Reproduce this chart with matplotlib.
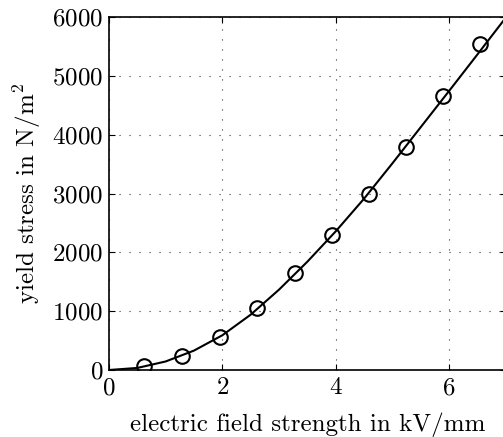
import matplotlib
matplotlib.use("Agg")
import matplotlib.pyplot as plt

plt.rcParams.update({
    "font.family": "serif",
    "font.serif": ["cmr10"],
    "mathtext.fontset": "cm",
    "axes.formatter.use_mathtext": True,
    "font.size": 18,
})

# measured yield stress (N/m^2) vs. electric field strength (kV/mm)
field_meas = [0.62, 1.29, 1.96, 2.62, 3.28, 3.94, 4.59, 5.24, 5.90, 6.55]
stress_meas = [73, 238, 566, 1049, 1644, 2296, 2988, 3787, 4654, 5544]

# model curve
field_model = [0, 0.5, 1, 1.5, 2, 2.5, 3, 3.5, 4, 4.5, 5, 5.5, 6, 6.5, 7]
stress_model = [0, 35, 145, 330, 590, 940, 1365, 1840, 2355, 2910, 3510,
                4125, 4740, 5360, 5985]

x_ticks = [0, 2, 4, 6]
y_ticks = [0, 1000, 2000, 3000, 4000, 5000, 6000]

fig = plt.figure(figsize=(5.03, 4.37), dpi=100)
ax = fig.add_axes([109 / 503, 67 / 437, 396.6 / 503, 353 / 437])

ax.plot(field_model, stress_model, color="black", lw=1.5)
ax.plot(field_meas, stress_meas, linestyle="none", marker="o", ms=10.5,
        mfc="none", mec="black", mew=1.5)

ax.set_xlim(0, 7)
ax.set_ylim(0, 6000)
ax.set_xticks(x_ticks)
ax.set_yticks(y_ticks)
ax.grid(True, linestyle=(0, (1, 8)), color="#333333", lw=0.8)
ax.tick_params(direction="in", top=True, right=True, length=4)
ax.tick_params(axis="x", pad=5)
ax.tick_params(axis="y", pad=4)
for s in ax.spines.values():
    s.set_linewidth(1.2)

ax.set_xlabel("electric field strength in kV/mm", labelpad=10)
ax.set_ylabel(r"yield stress in N/m$^2$", labelpad=7)

fig.savefig("out.png", dpi=100)
